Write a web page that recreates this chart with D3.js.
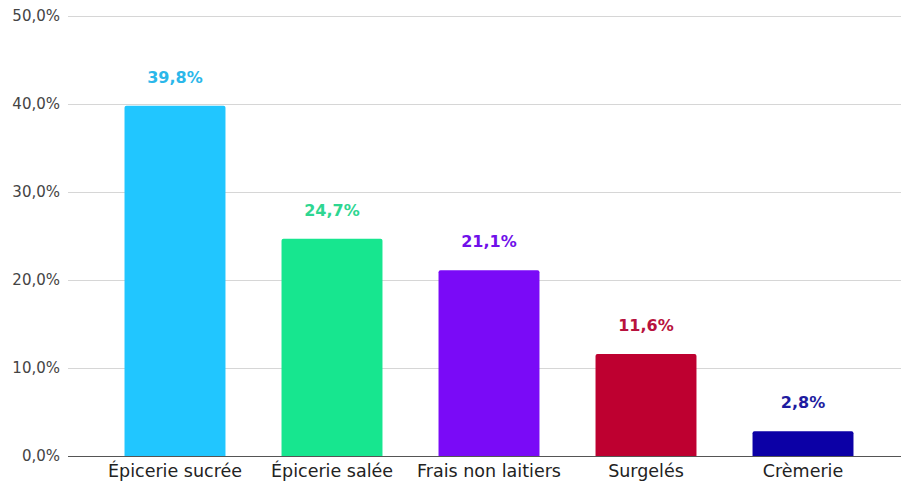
<!DOCTYPE html>
<html>
<head>
<meta charset="utf-8">
<script src="https://cdn.jsdelivr.net/npm/d3@7"></script>
<style>
  body { margin: 0; background: #fff; }
  text { font-family: "DejaVu Sans", sans-serif; }
</style>
</head>
<body>
<div id="chart"></div>
<script>
var width = 901,
    height = 484;

// data
var categories = ["Épicerie sucrée", "Épicerie salée", "Frais non laitiers", "Surgelés", "Crèmerie"];
var values = [39.8, 24.7, 21.1, 11.6, 2.8];
var barColors = ["#21c6ff", "#17e68f", "#7a0af7", "#be0030", "#0c00a6"];
var labelColors = ["#2bb7ea", "#2ed691", "#7010ea", "#b8123e", "#1e1ca0"];
var yTicks = [0, 10, 20, 30, 40, 50];

var plotLeft = 68, plotRight = 901,
    plotTop = 16, plotBottom = 456;

var fmt = function(v, digits) { return v.toFixed(digits).replace(".", ",") + "%"; };

var x = d3.scaleBand()
    .domain(categories)
    .range([plotLeft, 910])
    .paddingInner(0.357)
    .paddingOuter(0.36);

var y = d3.scaleLinear()
    .domain([0, 50])
    .range([plotBottom, plotTop]);

var svg = d3.select("#chart").append("svg")
    .attr("width", width)
    .attr("height", height);

// gridlines
svg.append("g").selectAll("line")
    .data(yTicks.filter(function(d) { return d > 0; }))
    .enter().append("line")
    .attr("x1", plotLeft).attr("x2", plotRight)
    .attr("y1", function(d) { return y(d) + 0.5; })
    .attr("y2", function(d) { return y(d) + 0.5; })
    .attr("stroke", "#d6d6d6")
    .attr("stroke-width", 1);

// y axis labels
var yAxis = d3.axisLeft(y)
    .tickValues(yTicks)
    .tickSize(0)
    .tickPadding(8)
    .tickFormat(function(d) { return fmt(d, 1); });

var gy = svg.append("g")
    .attr("transform", "translate(" + plotLeft + ",0)")
    .call(yAxis);
gy.select(".domain").remove();
gy.selectAll("text")
    .attr("font-family", "DejaVu Sans, sans-serif")
    .attr("font-size", 15)
    .attr("fill", "#444");

// bars
svg.append("g").selectAll("path")
    .data(values)
    .enter().append("path")
    .attr("d", function(d, i) {
      var x0 = x(categories[i]), w = x.bandwidth(),
          top = y(d), r = 2;
      return "M" + x0 + "," + plotBottom +
             "V" + (top + r) +
             "Q" + x0 + "," + top + " " + (x0 + r) + "," + top +
             "H" + (x0 + w - r) +
             "Q" + (x0 + w) + "," + top + " " + (x0 + w) + "," + (top + r) +
             "V" + plotBottom + "Z";
    })
    .attr("fill", function(d, i) { return barColors[i]; });

// value labels
svg.append("g").selectAll("text")
    .data(values)
    .enter().append("text")
    .attr("x", function(d, i) { return x(categories[i]) + x.bandwidth() / 2; })
    .attr("y", function(d) { return y(d) - 23; })
    .attr("text-anchor", "middle")
    .attr("font-size", 16)
    .attr("font-weight", "bold")
    .attr("fill", function(d, i) { return labelColors[i]; })
    .text(function(d) { return fmt(d, 1); });

// baseline
svg.append("line")
    .attr("x1", plotLeft).attr("x2", plotRight)
    .attr("y1", plotBottom + 0.5).attr("y2", plotBottom + 0.5)
    .attr("stroke", "#555")
    .attr("stroke-width", 1);

// x axis labels
var xAxis = d3.axisBottom(x).tickSize(0).tickPadding(9);
var gx = svg.append("g")
    .attr("transform", "translate(0," + plotBottom + ")")
    .call(xAxis);
gx.select(".domain").remove();
gx.selectAll("text")
    .attr("font-family", "DejaVu Sans, sans-serif")
    .attr("font-size", 17.5)
    .attr("fill", "#222");
</script>
</body>
</html>
